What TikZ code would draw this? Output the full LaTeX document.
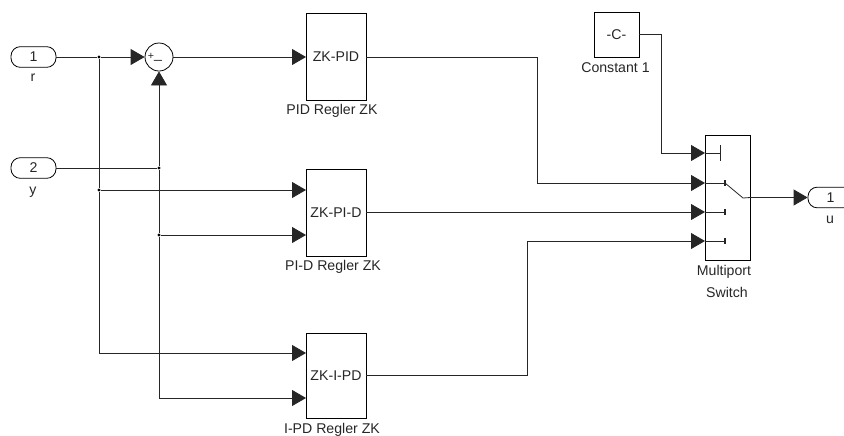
\documentclass[tikz,border=0pt]{standalone}
\usepackage{fontspec}
\setmainfont{Liberation Sans}
\usetikzlibrary{arrows.meta, positioning}

\begin{document}
\begin{tikzpicture}[
    x=0.75pt, y=-0.75pt,
    every node/.style={font=\fontsize{10.6}{12.5}\selectfont, inner sep=0pt, text=black!85},
    block/.style={draw, rectangle, line width=0.6pt, fill=white, align=center},
    port/.style={draw, rectangle, rounded corners=7pt, line width=0.6pt, minimum width=33.75pt, minimum height=15.5pt},
    sumcircle/.style={draw, circle, line width=0.6pt, minimum size=21pt},
    dot/.style={circle, fill=black, minimum size=2.6pt},
    wire/.style={line width=0.6pt, draw=black!85},
    arrow/.style={wire, -{Triangle[length=10.5pt, width=12pt]}}
]
    \useasboundingbox (0,0) rectangle (844,436);

    % Inports and sum
    \node (r) [port] at (33.5,57) {1};
    \node (rlabel) at (33,78) {r};
    \node (y) [port] at (33.5,168) {2};
    \node (ylabel) at (33,192) {y};
    \node (sum) [sumcircle] at (159,57) {};
    \node (plus) at (151,56) {\fontsize{8}{8}\selectfont +};
    \node (minus) at (158,60) {\_};

    % Regler blocks
    \node (pid) [block, minimum width=45pt, minimum height=65.25pt] at (336,56.5) {ZK-PID};
    \node (pidlabel) at (332,111) {PID Regler ZK};
    \node (pid d) [block, minimum width=45pt, minimum height=65.25pt] at (336,212.5) {ZK-PI-D};
    \node (pidlabel2) at (333,267) {PI-D Regler ZK};
    \node (ipd) [block, minimum width=45pt, minimum height=63.75pt] at (336,375.5) {ZK-I-PD};
    \node (ipdlabel) at (332,430) {I-PD Regler ZK};

    % Constant and switch
    \node (const) [block, minimum width=33.75pt, minimum height=33.75pt] at (616.5,34.5) {-C-};
    \node (constlabel) at (615.5,68) {Constant 1};
    \node (switch) [block, minimum width=33.75pt, minimum height=93.75pt] at (727.5,197.5) {};
    \node (switchlabel) at (724,272) {Multiport};
    \node (switchlabel2) at (727,292) {Switch};
    \node (u) [port] at (830.5,197.5) {1};
    \node (ulabel) at (830,220) {u};

    % Junctions
    \node (rjoin) [dot] at (99,57) {};
    \node (rjoin2) [dot] at (99,190) {};
    \node (yjoin) [dot] at (159,168) {};
    \node (yjoin2) [dot] at (159,235) {};

    % Block inputs
    \coordinate (pidin) at (306,57);
    \coordinate (pidin1) at (306,190);
    \coordinate (pidin2) at (306,235);
    \coordinate (ipdin1) at (306,353);
    \coordinate (ipdin2) at (306,398);

    % Switch inputs and contacts
    \coordinate (swin1) at (705,153);
    \coordinate (swin2) at (705,183);
    \coordinate (swin3) at (705,212);
    \coordinate (swin4) at (705,241);
    \coordinate (cont1) at (720,153);
    \coordinate (cont2) at (725,183);
    \coordinate (cont3) at (725,212);
    \coordinate (cont4) at (725,241);
    \coordinate (pivot) at (743,198);

    % Connections
    \draw [wire] (r) -- (rjoin);
    \draw [arrow] (rjoin) -- (sum);
    \draw [wire] (rjoin) -- (rjoin2);
    \draw [wire] (y) -- (yjoin);
    \draw [arrow] (yjoin) -- (sum);
    \draw [wire] (yjoin) -- (yjoin2);
    \draw [arrow] (rjoin2) -- (pidin1);
    \draw [arrow] (yjoin2) -- (pidin2);
    \draw [arrow] (rjoin2) |- (ipdin1);
    \draw [arrow] (yjoin2) |- (ipdin2);
    \draw [arrow] (sum) -- (pidin);

    % To the switch
    \draw [arrow] (const.east) -- ++(22,0) |- (swin1);
    \draw [arrow] (pid.east |- pidin) -- (537,57) |- (swin2);
    \draw [arrow] (pid d.east |- swin3) -- (swin3);
    \draw [arrow] (ipd.east) -- (527,375.5) |- (swin4);
    \draw [arrow] (switch.east |- u) -- (u);

    % Switch symbol
    \draw [wire] (swin1) -- (cont1);
    \draw [wire] (cont1 |- 0,145) -- (cont1 |- 0,161);
    \foreach \n in {2,3,4} {
        \draw [wire] (swin\n) -- (cont\n);
        \draw [wire, line width=1pt] (cont\n) ++(0,-3) -- ++(0,6);
    }
    \draw [wire] (cont2) -- (pivot) -- (switch.east |- u);
\end{tikzpicture}
\end{document}
